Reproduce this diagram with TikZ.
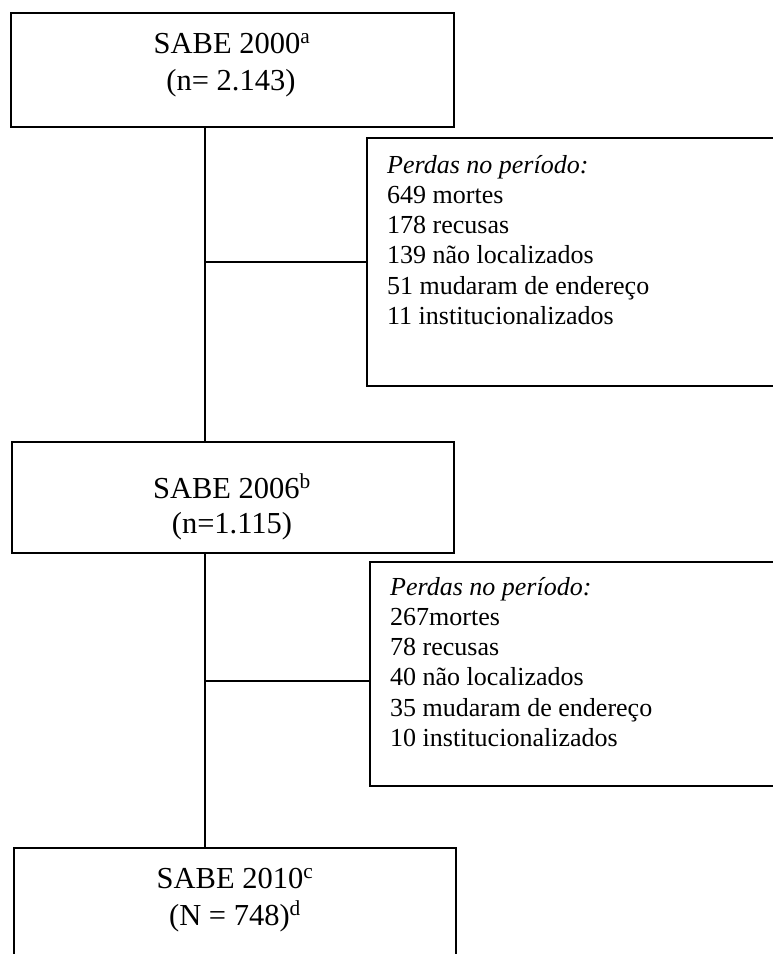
\documentclass[tikz,border=0pt]{standalone}
\usepackage{fontspec}
\setmainfont{Liberation Serif}
\begin{document}
\begin{tikzpicture}[x=1pt,y=-1pt]
\tikzset{
 box/.style={draw, line width=1.6pt, rectangle, inner sep=0pt, anchor=north west},
 ln/.style={line width=1.6pt},
 ttl/.style={font=\fontsize{30.5}{36}\selectfont, inner sep=0pt, anchor=base},
 body/.style={font=\fontsize{26}{30}\selectfont, inner sep=0pt, anchor=base west},
}
\useasboundingbox (0,0) rectangle (773,954);
% boxes
\node[box, minimum width=443pt, minimum height=114pt] (b1) at (10,12) {};
\node[box, minimum width=424pt, minimum height=248pt] (r1) at (366,137) {};
\node[box, minimum width=442pt, minimum height=111pt] (b2) at (11,441) {};
\node[box, minimum width=420pt, minimum height=224pt] (r2) at (369,561) {};
\node[box, minimum width=442pt, minimum height=130pt] (b3) at (13,847) {};
% titles
\node[ttl] (t1a) at (232,53) {SABE 2000\textsuperscript{a}};
\node[ttl] (t1b) at (231,90) {(n= 2.143)};
\node[ttl] (t2a) at (232,498) {SABE 2006\textsuperscript{b}};
\node[ttl] (t2b) at (232,533) {(n=1.115)};
\node[ttl] (t3a) at (235,888) {SABE 2010\textsuperscript{c}};
\node[ttl] (t3b) at (235,925) {(N = 748)\textsuperscript{d}};
% losses 2000-2006
\node[body] (p11) at (387,173) {\textit{Perdas no período:}};
\node[body] (p12) at (387,203.3) {649 mortes};
\node[body] (p13) at (387,233.6) {178 recusas};
\node[body] (p14) at (387,263.9) {139 não localizados};
\node[body] (p15) at (387,294.2) {51 mudaram de endereço};
\node[body] (p16) at (387,324.5) {11 institucionalizados};
% losses 2006-2010
\node[body] (p21) at (390,595) {\textit{Perdas no período:}};
\node[body] (p22) at (390,625.3) {267mortes};
\node[body] (p23) at (390,655.6) {78 recusas};
\node[body] (p24) at (390,685.9) {40 não localizados};
\node[body] (p25) at (390,716.2) {35 mudaram de endereço};
\node[body] (p26) at (390,746.5) {10 institucionalizados};
% connectors
\coordinate (xl) at (205,0);
\coordinate (j1) at (205,262);
\coordinate (j2) at (205,681);
\draw[ln] (b1.south -| xl) -- (b2.north -| xl);
\draw[ln] (b2.south -| xl) -- (b3.north -| xl);
\draw[ln] (j1) -- (j1 -| r1.west);
\draw[ln] (j2) -- (j2 -| r2.west);
\end{tikzpicture}
\end{document}
